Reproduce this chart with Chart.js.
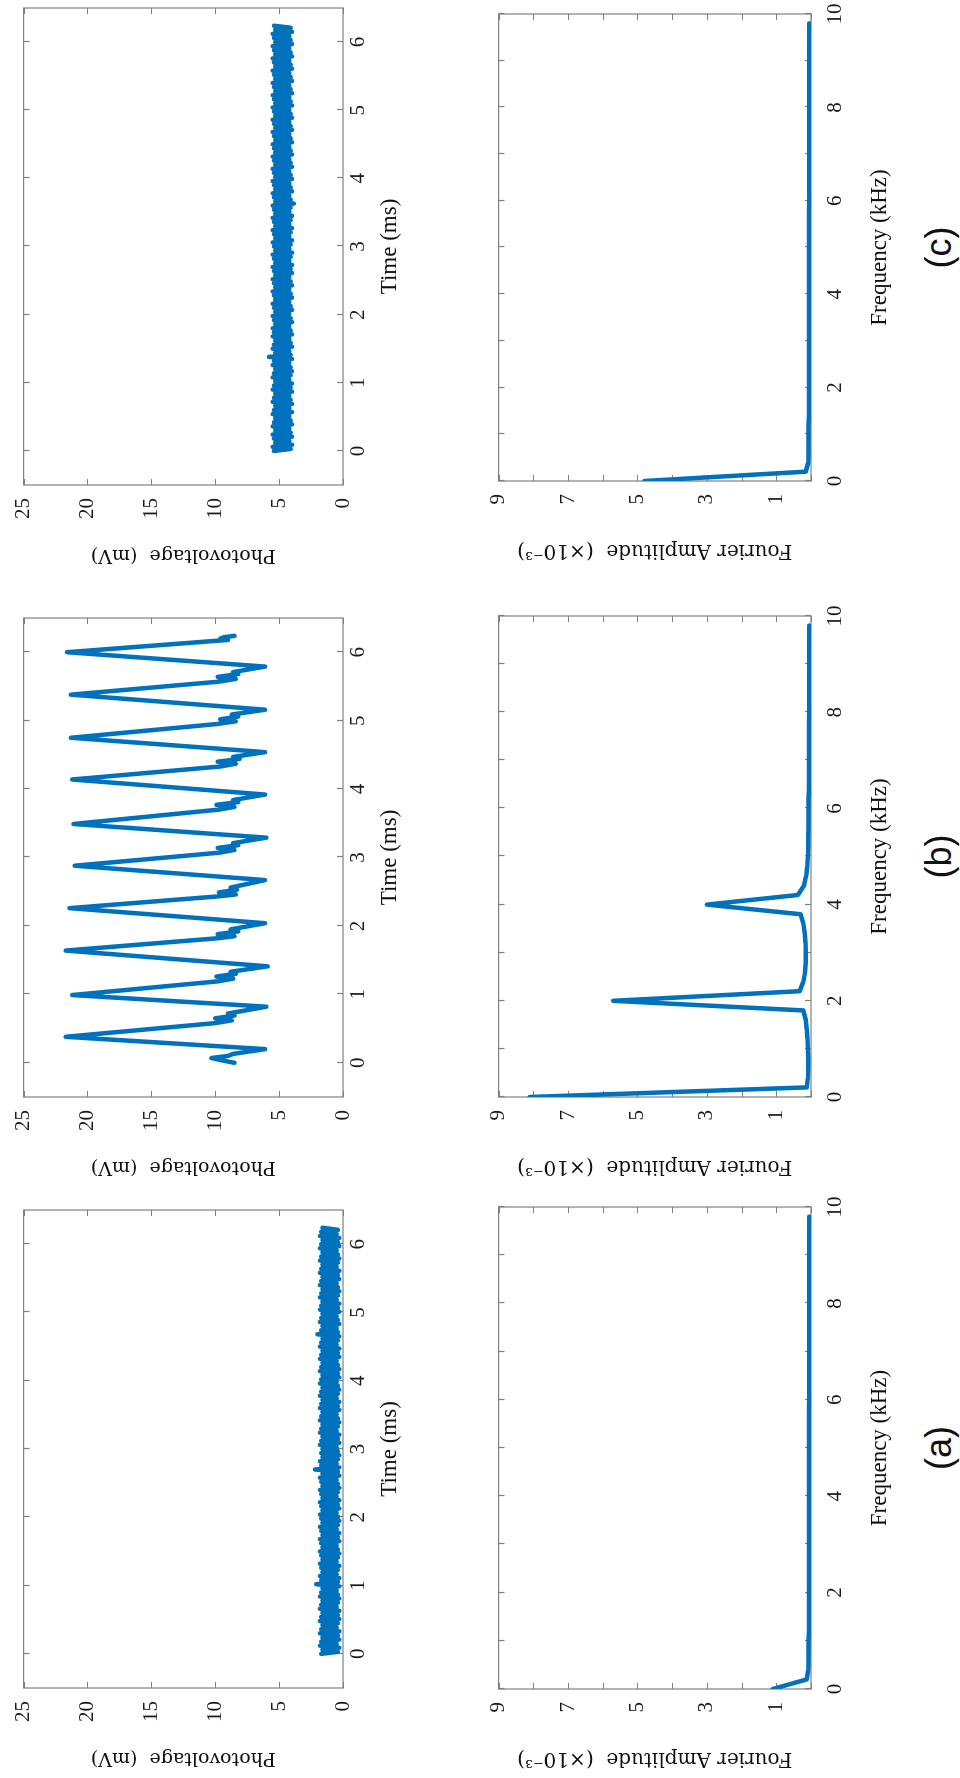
<!DOCTYPE html>
<html>
<head>
<meta charset="utf-8">
<script src="https://cdn.jsdelivr.net/npm/chart.js@4.4.0/dist/chart.umd.min.js"></script>
<style>
  html, body { margin: 0; padding: 0; background: #fff; overflow: hidden; }
  /* figure is laid out upright (1778 x 960) and then turned a quarter turn left */
  #fig { position: absolute; left: 0; top: 0; width: 1778px; height: 960px;
         transform-origin: 0 0; transform: translateY(1778px) rotate(-90deg); }
  #fig canvas { position: absolute; }
  .tag { position: absolute; font-family: "Liberation Sans", Arial, sans-serif;
         font-size: 36px; color: #111; transform: translate(-50%, -50%); white-space: nowrap; }
</style>
</head>
<body>
<div id="fig"></div>
<script>
// ---- data ----
// noise traces (a) and (c): one sample every 0.03 ms starting at t = 0
const noiseStart = 0;
const noiseStep = 0.03;
const noiseA = [
  1.7,0.4,1.6,0.3,1.8,0.5,1.7,0.3,1.6,0.4,1.8,0.3,1.7,0.5,1.6,0.4,1.8,0.3,1.7,0.4,
  1.6,0.3,1.8,0.5,1.7,0.4,1.6,0.3,1.8,0.4,1.7,0.5,1.6,0.3,2.1,0.4,1.7,0.3,1.8,0.5,
  1.6,0.4,1.7,0.3,1.8,0.5,1.6,0.4,1.7,0.3,1.8,0.4,1.6,0.5,1.7,0.3,1.8,0.4,1.6,0.3,
  1.7,0.5,1.8,0.4,1.6,0.3,1.7,0.4,1.8,0.5,1.6,0.3,1.7,0.4,1.8,0.3,1.6,0.5,1.7,0.4,
  1.8,0.3,1.6,0.4,1.7,0.5,1.8,0.3,1.6,0.4,2.2,0.3,1.7,0.5,1.8,0.4,1.6,0.3,1.7,0.4,
  1.6,0.5,1.8,0.3,1.7,0.4,1.6,0.3,1.8,0.5,1.7,0.4,1.6,0.3,1.8,0.4,1.7,0.5,1.6,0.3,
  1.8,0.4,1.7,0.3,1.6,0.5,1.8,0.4,1.7,0.3,1.6,0.4,1.8,0.5,1.7,0.3,1.6,0.4,1.8,0.3,
  1.7,0.4,1.6,0.5,1.8,0.3,1.7,0.4,1.6,0.3,1.8,0.5,1.7,0.4,1.6,0.3,2.0,0.4,1.7,0.5,
  1.6,0.3,1.8,0.4,1.7,0.5,1.6,0.3,1.8,0.4,1.7,0.3,1.6,0.5,1.8,0.4,1.7,0.3,1.6,0.4,
  1.8,0.5,1.7,0.3,1.6,0.4,1.8,0.3,1.7,0.5,1.6,0.4,1.8,0.3,1.7,0.4,1.6,0.5,1.8,0.3,
  1.7,0.4,1.6,0.3,1.8,0.5,1.7,0.4,1.6
];
const noiseC = [
  5.4,4.1,5.5,4.0,5.3,4.2,5.4,4.0,5.5,4.1,5.3,4.2,5.5,4.0,5.4,4.1,5.3,4.2,5.5,4.0,
  5.4,4.2,5.3,4.0,5.5,4.1,5.4,4.2,5.3,4.0,5.5,4.1,5.4,4.0,5.3,4.2,5.5,4.1,5.4,4.0,
  5.3,4.1,5.5,4.2,5.4,4.0,5.8,4.1,5.3,4.2,5.5,4.0,5.4,4.1,5.3,4.2,5.5,4.0,5.4,4.1,
  5.5,4.2,5.3,4.0,5.4,4.1,5.5,4.2,5.3,4.0,5.4,4.1,5.5,4.2,5.3,4.0,5.4,4.1,5.5,4.2,
  5.3,4.0,5.4,4.1,5.5,4.2,5.3,4.0,5.4,4.1,5.5,4.0,5.3,4.2,5.4,4.1,5.5,4.0,5.3,4.2,
  5.4,4.1,5.5,4.0,5.3,4.2,5.4,4.1,5.5,4.0,5.3,4.2,5.4,4.1,5.5,4.0,5.3,4.2,5.4,4.1,
  5.5,3.85,5.3,4.1,5.4,4.2,5.5,4.0,5.3,4.1,5.4,4.2,5.5,4.0,5.3,4.1,5.4,4.2,5.5,4.0,
  5.3,4.1,5.4,4.2,5.5,4.0,5.3,4.1,5.4,4.2,5.5,4.0,5.3,4.1,5.4,4.2,5.5,4.0,5.3,4.1,
  5.4,4.2,5.5,4.0,5.3,4.1,5.4,4.2,5.5,4.0,5.3,4.1,5.4,4.2,5.5,4.0,5.3,4.1,5.4,4.2,
  5.5,4.0,5.3,4.1,5.4,4.2,5.5,4.0,5.3,4.1,5.4,4.2,5.5,4.0,5.3,4.1,5.4,4.2,5.5,4.0,
  5.3,4.1,5.4,4.2,5.5,4.0,5.3,4.1,5.4
];

// oscillating trace (b): turning points in ms / mV
const timeB = [
  0.00,0.04,0.07,0.10,0.13,0.20,0.38,0.58,0.62,0.65,0.69,0.72,0.82,
  0.99,1.19,1.23,1.26,1.30,1.33,1.41,
  1.64,1.82,1.85,1.88,1.92,1.95,2.04,
  2.26,2.43,2.46,2.49,2.53,2.56,2.67,
  2.88,3.07,3.11,3.14,3.18,3.21,3.29,
  3.49,3.70,3.74,3.77,3.81,3.84,3.92,
  4.14,4.33,4.37,4.40,4.44,4.47,4.54,
  4.75,4.95,4.99,5.02,5.06,5.09,5.16,
  5.38,5.57,5.61,5.64,5.68,5.71,5.79,
  6.00,6.18,6.20,6.22,6.24
];
const voltB = [
  8.5,9.6,10.3,9.0,8.6,6.1,21.7,10.0,8.7,10.0,8.5,9.0,6.0,
  21.2,9.8,8.6,9.9,8.4,8.8,5.9,
  21.7,9.8,8.5,9.8,8.2,8.8,6.1,
  21.4,9.9,8.4,9.7,8.3,8.8,6.1,
  21.0,9.7,8.5,9.8,8.2,8.6,6.0,
  21.1,9.7,8.5,9.9,8.2,8.6,6.1,
  21.2,9.6,8.4,9.8,8.1,8.6,6.1,
  21.3,9.9,8.4,9.6,8.2,8.7,6.1,
  21.3,9.7,8.4,9.8,8.2,8.6,6.1,
  21.6,9.0,9.6,9.3,8.5
];

// spectra, kHz / (x10^-3)
const freqKHz = [
  0,0.2,0.4,0.6,0.8,1.0,1.2,1.4,1.6,1.8,2.0,2.2,2.4,2.6,2.8,3.0,3.2,3.4,3.6,3.8,
  4.0,4.2,4.4,4.6,4.8,5.0,5.2,5.4,5.6,5.8,6.0,6.2,6.4,6.6,6.8,7.0,7.2,7.4,7.6,7.8,
  8.0,8.2,8.4,8.6,8.8,9.0,9.2,9.4,9.6,9.8
];
const ampA = [
  1.1,0.12,0.08,0.07,0.07,0.07,0.06,0.06,0.06,0.06,0.06,0.06,0.06,0.06,0.06,0.06,0.06,0.06,0.06,0.06,
  0.06,0.06,0.06,0.06,0.06,0.06,0.06,0.06,0.06,0.06,0.05,0.05,0.05,0.05,0.05,0.05,0.05,0.05,0.05,0.05,
  0.05,0.05,0.05,0.05,0.05,0.05,0.05,0.05,0.05,0.05
];
const ampB = [
  8.1,0.12,0.09,0.08,0.08,0.09,0.10,0.12,0.15,0.22,5.7,0.33,0.22,0.17,0.15,0.15,0.16,0.18,0.22,0.30,
  3.0,0.38,0.20,0.14,0.11,0.09,0.08,0.08,0.07,0.07,0.07,0.07,0.06,0.06,0.06,0.06,0.06,0.06,0.06,0.06,
  0.05,0.05,0.05,0.05,0.05,0.05,0.05,0.05,0.05,0.05
];
const ampC = [
  4.8,0.15,0.08,0.07,0.07,0.07,0.07,0.06,0.06,0.06,0.06,0.06,0.06,0.06,0.06,0.06,0.06,0.06,0.06,0.06,
  0.06,0.06,0.06,0.06,0.06,0.06,0.06,0.06,0.06,0.06,0.05,0.05,0.05,0.05,0.05,0.05,0.05,0.05,0.05,0.05,
  0.05,0.05,0.05,0.05,0.05,0.05,0.05,0.05,0.05,0.05
];

const timeTicks = [0, 1, 2, 3, 4, 5, 6];
const voltTicks = [0, 5, 10, 15, 20, 25];
const freqTicks = [0, 1, 2, 3, 4, 5, 6, 7, 8, 9, 10];
const ampTicks = [0, 1, 2, 3, 4, 5, 6, 7, 8, 9];
const panelTags = ['(a)', '(b)', '(c)'];

// ---- layout (upright figure coordinates) ----
const BLUE = 'rgb(0,114,189)';
const ML = 100, MT = 14, MR = 24, MB = 100;
const timeBoxes = [
  { l: 90,   t: 12, w: 478, h: 331 },
  { l: 681,  t: 12, w: 479, h: 331 },
  { l: 1293, t: 12, w: 477, h: 331 }
];
const fourierBoxes = [
  { l: 89,   t: 487, w: 482, h: 324 },
  { l: 681,  t: 487, w: 481, h: 324 },
  { l: 1297, t: 487, w: 467, h: 324 }
];

const fig = document.getElementById('fig');

// MATLAB style box with inward ticks on all four sides
const boxPlugin = {
  id: 'box',
  beforeDatasetsDraw(chart) {
    const { ctx, chartArea: a, scales: { x, y } } = chart;
    ctx.save();
    ctx.strokeStyle = '#808080';
    ctx.lineWidth = 1.2;
    ctx.strokeRect(a.left, a.top, a.right - a.left, a.bottom - a.top);
    ctx.beginPath();
    x.ticks.forEach(t => {
      const px = Math.round(x.getPixelForValue(t.value)) + 0.5;
      ctx.moveTo(px, a.bottom); ctx.lineTo(px, a.bottom - 6);
      ctx.moveTo(px, a.top); ctx.lineTo(px, a.top + 6);
    });
    y.ticks.forEach(t => {
      const py = Math.round(y.getPixelForValue(t.value)) + 0.5;
      ctx.moveTo(a.left, py); ctx.lineTo(a.left + 6, py);
      ctx.moveTo(a.right, py); ctx.lineTo(a.right - 6, py);
    });
    ctx.stroke();
    ctx.restore();
  }
};

function makePanel(box, cfg) {
  const canvas = document.createElement('canvas');
  const W = ML + box.w + MR, H = MT + box.h + MB;
  canvas.width = W; canvas.height = H;
  canvas.style.left = (box.l - ML) + 'px';
  canvas.style.top = (box.t - MT) + 'px';
  canvas.style.width = W + 'px';
  canvas.style.height = H + 'px';
  fig.appendChild(canvas);

  const tickFont = { family: '"Liberation Serif", "Times New Roman", serif', size: 21 };
  new Chart(canvas, {
    type: 'line',
    data: {
      datasets: [{
        data: cfg.xs.map((v, i) => ({ x: v, y: cfg.ys[i] })),
        borderColor: BLUE,
        borderWidth: cfg.lw,
        pointRadius: 0,
        tension: 0,
        fill: false,
        borderJoinStyle: 'round',
        borderCapStyle: 'round'
      }]
    },
    options: {
      responsive: false,
      animation: false,
      devicePixelRatio: 1,
      layout: { padding: { top: MT, right: MR, left: 0, bottom: 0 } },
      plugins: { legend: { display: false }, tooltip: { enabled: false } },
      scales: {
        x: {
          type: 'linear',
          min: cfg.xMin, max: cfg.xMax,
          grid: { display: false, drawTicks: false },
          border: { display: false },
          afterBuildTicks: s => { s.ticks = cfg.xTicks.map(v => ({ value: v })); },
          afterFit: s => { s.height = MB; },
          ticks: {
            font: tickFont, color: '#1a1a1a', padding: cfg.xPad, maxRotation: 0,
            autoSkip: false, callback: cfg.xLabel
          },
          title: {
            display: true, text: cfg.xTitle, color: '#111',
            font: { family: '"Liberation Serif", "Times New Roman", serif', size: 23 },
            padding: { top: 0, bottom: cfg.xTitlePad }
          }
        },
        y: {
          type: 'linear',
          min: cfg.yMin, max: cfg.yMax,
          grid: { display: false, drawTicks: false },
          border: { display: false },
          afterBuildTicks: s => { s.ticks = cfg.yTicks.map(v => ({ value: v })); },
          afterFit: s => { s.width = ML; },
          ticks: {
            font: tickFont, color: '#1a1a1a', padding: 13,
            autoSkip: false, callback: cfg.yLabel
          },
          title: {
            display: true, text: cfg.yTitle, color: '#111',
            font: { family: '"DejaVu Serif", "Palatino Linotype", serif', size: cfg.yTitleSize },
            padding: { top: 19, bottom: 0 }
          }
        }
      }
    },
    plugins: [boxPlugin]
  });
}

const noiseTime = noiseA.map((_, i) => noiseStart + i * noiseStep);
const timeSeries = [
  { xs: noiseTime, ys: noiseA, lw: 4.5 },
  { xs: timeB, ys: voltB, lw: 4.5 },
  { xs: noiseTime, ys: noiseC, lw: 4.5 }
];
const spectra = [ampA, ampB, ampC];

for (let k = 0; k < 3; k++) {
  makePanel(timeBoxes[k], {
    xs: timeSeries[k].xs, ys: timeSeries[k].ys, lw: timeSeries[k].lw,
    xMin: -0.5, xMax: 6.5, yMin: 0, yMax: 25,
    xTicks: timeTicks, yTicks: voltTicks,
    xLabel: v => String(v), yLabel: v => String(v),
    xPad: 3, xTitle: 'Time (ms)', xTitlePad: 39,
    yTitle: 'Photovoltage  (mV)', yTitleSize: 19
  });
  makePanel(fourierBoxes[k], {
    xs: freqKHz, ys: spectra[k], lw: 4.5,
    xMin: 0, xMax: 10, yMin: 0, yMax: 9,
    xTicks: freqTicks, yTicks: ampTicks,
    xLabel: v => (v % 2 === 0 ? String(v) : ''),
    yLabel: v => (v % 2 === 1 ? String(v) : ''),
    xPad: 12, xTitle: 'Frequency (kHz)', xTitlePad: 17,
    yTitle: 'Fourier Amplitude  (\u00d710\u207b\u00b3)', yTitleSize: 20
  });
  const tag = document.createElement('div');
  tag.className = 'tag';
  tag.textContent = panelTags[k];
  tag.style.left = (fourierBoxes[k].l + fourierBoxes[k].w / 2) + 'px';
  tag.style.top = '939px';
  fig.appendChild(tag);
}
</script>
</body>
</html>
